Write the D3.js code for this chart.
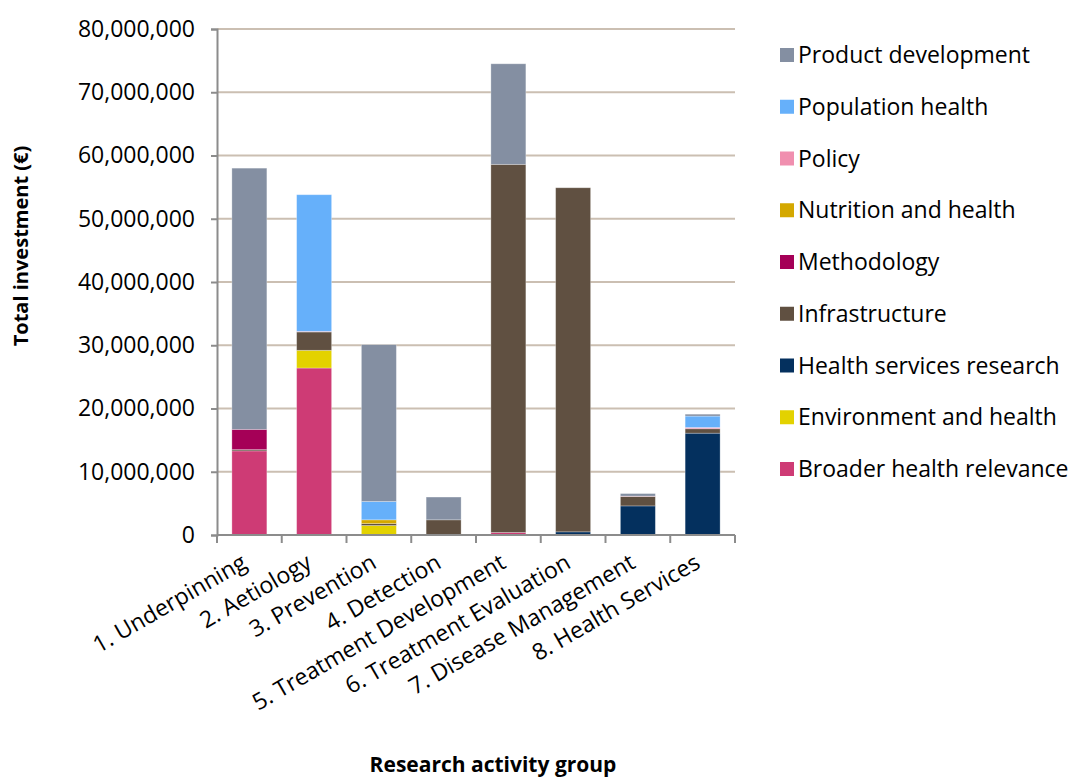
<!DOCTYPE html>
<html><head><meta charset="utf-8">
<script src="https://cdn.jsdelivr.net/npm/d3@7"></script>
<style>body{margin:0;background:#fff}svg{display:block}text{font-family:"Open Sans",sans-serif}</style>
</head><body>
<svg id="c" width="1074" height="780"></svg>
<script>
const categories = ["1. Underpinning","2. Aetiology","3. Prevention","4. Detection","5. Treatment Development","6. Treatment Evaluation","7. Disease Management","8. Health Services"];
// stacking order bottom -> top
const seriesNames = ["Broader health relevance","Environment and health","Health services research","Infrastructure","Methodology","Nutrition and health","Policy","Population health","Product development"];
const seriesColors = ["#CE3B75","#E3D200","#04305E","#605041","#A50057","#D4A800","#F08FAF","#66B0FA","#848FA2"];
const broaderHealth   = [13.3, 26.4, 0,   0,   0.4, 0,    0,   0,    0];
const environment     = [0,    2.8,  1.5, 0,   0,   0,    0,   0];
const healthServices  = [0,    0,    0,   0,   0,   0.5,  4.6, 16.1];
const infrastructure  = [0.2,  2.9,  0.3, 2.4, 58.2,54.4, 1.5, 0.7];
const methodology     = [3.2,  0,    0,   0,   0,   0,    0,   0];
const nutrition       = [0,    0,    0.6, 0,   0,   0,    0,   0];
const policy          = [0,    0.1,  0,   0,   0,   0,    0.05,0.2];
const populationHealth= [0,    21.6, 2.9, 0,   0,   0,    0,   1.8];
const productDev      = [41.3, 0,    24.8,3.6, 15.9,0,    0.4, 0.3];
const yTicks = [0,10e6,20e6,30e6,40e6,50e6,60e6,70e6,80e6];

const seriesValues = [broaderHealth,environment,healthServices,infrastructure,methodology,nutrition,policy,populationHealth,productDev];
const rows = categories.map((c,i)=>{const r={cat:c};seriesNames.forEach((s,j)=>r[s]=(seriesValues[j][i]||0)*1e6);return r;});
const stack = d3.stack().keys(seriesNames)(rows);

const svg = d3.select("#c");
const m = {l:217,r:735,t:29,b:535};
const x = d3.scaleBand().domain(categories).range([m.l,m.r]).paddingInner(0.46).paddingOuter(0.23);
const y = d3.scaleLinear().domain([0,80e6]).range([m.b,m.t]);
const color = d3.scaleOrdinal().domain(seriesNames).range(seriesColors);

// gridlines
svg.append("g").selectAll("line").data(yTicks.slice(1)).join("line")
  .attr("x1",m.l).attr("x2",m.r).attr("y1",d=>y(d)).attr("y2",d=>y(d))
  .attr("stroke","#CBBFB2").attr("stroke-width",2);

// bars
svg.append("g").selectAll("g").data(stack).join("g").attr("fill",d=>color(d.key))
  .selectAll("rect").data(d=>d.filter(p=>p[1]-p[0]>0)).join("rect")
  .attr("x",d=>x(d.data.cat)).attr("width",x.bandwidth())
  .attr("y",d=>y(d[1])).attr("height",d=>y(d[0])-y(d[1]))
  .attr("stroke","#ffffff").attr("stroke-opacity",0.35).attr("stroke-width",0.8);

// y axis
const yAxis = d3.axisLeft(y).tickValues(yTicks).tickSize(6).tickPadding(16).tickFormat(d3.format(","));
const gy = svg.append("g").attr("transform",`translate(${m.l},0)`).call(yAxis);
gy.select(".domain").attr("stroke","#8c8c8c").attr("stroke-width",2);
gy.selectAll(".tick line").attr("stroke","#8c8c8c").attr("stroke-width",2);
gy.selectAll("text").attr("font-size",23).attr("fill","#000").style("font-family","'Open Sans',sans-serif");

// x axis with ticks at band boundaries
const gx = svg.append("g").attr("transform",`translate(0,${m.b})`);
gx.append("line").attr("x1",m.l).attr("x2",m.r).attr("stroke","#8c8c8c").attr("stroke-width",2);
const bounds = d3.range(categories.length+1).map(i=>m.l+i*(m.r-m.l)/categories.length);
gx.selectAll("line.t").data(bounds).join("line").attr("class","t")
  .attr("x1",d=>d).attr("x2",d=>d).attr("y1",0).attr("y2",8).attr("stroke","#8c8c8c").attr("stroke-width",2);
gx.selectAll("text").data(categories).join("text")
  .attr("transform",d=>`translate(${x(d)+x.bandwidth()/2-9},${18}) rotate(-30)`)
  .attr("text-anchor","end").attr("dy","0.7em").attr("font-size",23).attr("fill","#000").text(d=>d);

// axis titles
svg.append("text").attr("transform","translate(28,246) rotate(-90)").attr("text-anchor","middle")
  .attr("font-size",20).attr("font-weight","bold").text("Total investment (€)");
svg.append("text").attr("x",493).attr("y",772).attr("text-anchor","middle")
  .attr("font-size",21).attr("font-weight","bold").text("Research activity group");

// legend (top to bottom reversed order)
const legendItems = seriesNames.slice().reverse();
const lg = svg.append("g").selectAll("g").data(legendItems).join("g")
  .attr("transform",(d,i)=>`translate(780,${55+i*51.75})`);
lg.append("rect").attr("x",0).attr("y",-7).attr("width",14).attr("height",14).attr("fill",d=>color(d));
lg.append("text").attr("x",18).attr("dy","0.35em").attr("font-size",23).attr("fill","#000").text(d=>d);
</script>
</body></html>
